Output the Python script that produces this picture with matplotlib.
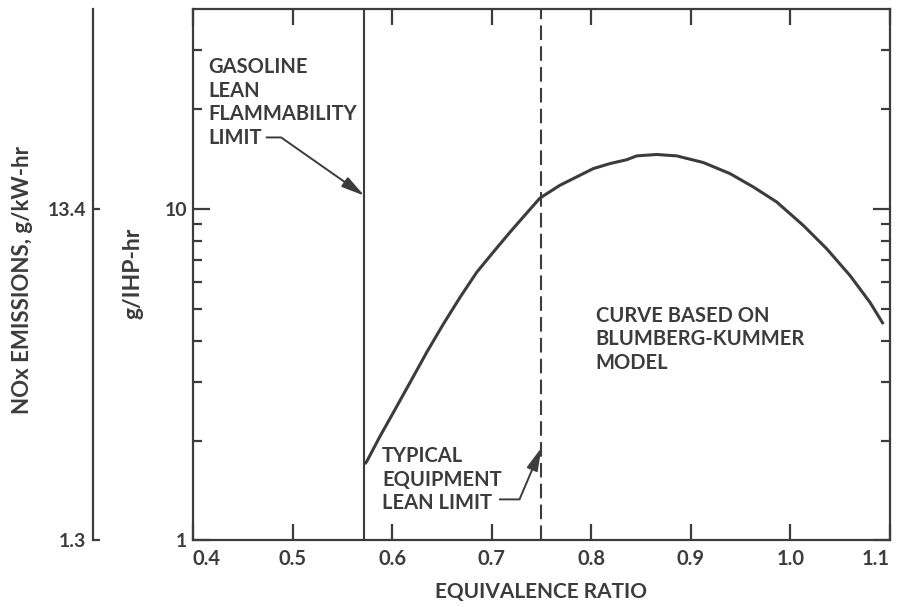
import matplotlib.pyplot as plt
from matplotlib.ticker import FixedLocator, FixedFormatter, NullLocator

# NOx emissions vs equivalence ratio (Blumberg-Kummer model curve)
phi = [0.5725, 0.5745, 0.5878, 0.6012, 0.6179, 0.6347, 0.6514, 0.6681, 0.6849,
       0.7016, 0.7184, 0.7351, 0.7485, 0.7686, 0.7853, 0.802, 0.8188, 0.8356,
       0.8456, 0.8657, 0.8858, 0.9125, 0.9393, 0.9627, 0.9862, 1.013, 1.0365,
       1.06, 1.0799, 1.0933]
nox = [1.70, 1.73, 2.06, 2.43, 2.99, 3.69, 4.49, 5.40, 6.43,
       7.40, 8.50, 9.70, 10.77, 11.77, 12.47, 13.21, 13.68, 14.05,
       14.43, 14.57, 14.43, 13.78, 12.76, 11.63, 10.48, 8.90, 7.57,
       6.28, 5.22, 4.49]

flammability_limit = 0.572
equipment_limit = 0.75

x_ticks = [0.4, 0.5, 0.6, 0.7, 0.8, 0.9, 1.0, 1.1]
x_labels = ["0.4", "0.5", "0.6", "0.7", "0.8", "0.9", "1.0", "1.1"]

kw_factor = 1.341   # g/IHP-hr -> g/kW-hr
kw_ticks = [1.341, 13.41]
kw_labels = ["1.3", "13.4"]

ink = "#3c3c3c"
plt.rcParams['font.family'] = ['Lato', 'DejaVu Sans']
plt.rcParams['font.weight'] = 'bold'
plt.rcParams['text.color'] = ink
plt.rcParams['axes.edgecolor'] = ink
plt.rcParams['xtick.color'] = ink
plt.rcParams['ytick.color'] = ink

fig = plt.figure(figsize=(8.98, 6.07), dpi=100)
ax = fig.add_axes([0.2149, 0.1096, 0.7762, 0.8756])

ax.plot(phi, nox, color=ink, lw=2.2, solid_capstyle='butt')
ax.axvline(flammability_limit, color=ink, lw=1.5)
ax.axvline(equipment_limit, color=ink, lw=1.5, linestyle=(0, (7, 3)))

ax.set_yscale('log')
ax.set_xlim(0.4, 1.1)
ax.set_ylim(1, 40)

for s in ax.spines.values():
    s.set_linewidth(1.6)

ax.xaxis.set_major_locator(FixedLocator(x_ticks))
ax.xaxis.set_major_formatter(FixedFormatter(x_labels))
ax.yaxis.set_major_locator(FixedLocator([1, 10]))
ax.yaxis.set_major_formatter(FixedFormatter(["1", "10"]))
ax.yaxis.set_minor_locator(FixedLocator([2, 3, 4, 5, 6, 7, 8, 9, 20, 30]))
ax.yaxis.set_minor_formatter(FixedFormatter([]))

ax.tick_params(axis='x', which='major', direction='in', top=True, length=11.5,
               width=1.6, labelsize=14.5, pad=6)
ax.tick_params(axis='y', which='major', direction='in', right=True, length=12,
               width=1.6, labelsize=14, pad=4)
ax.tick_params(axis='y', which='minor', direction='in', right=True, length=6.5,
               width=1.6)

xl = ax.get_xticklabels()
xl[0].set_horizontalalignment('left')
xl[-1].set_horizontalalignment('right')

# outer scale in g/kW-hr
sec = ax.secondary_yaxis(-0.1435, functions=(lambda v: v * kw_factor,
                                              lambda v: v / kw_factor))
sec.yaxis.set_major_locator(FixedLocator(kw_ticks))
sec.yaxis.set_major_formatter(FixedFormatter(kw_labels))
sec.yaxis.set_minor_locator(NullLocator())
sec.spines['left'].set_linewidth(1.6)
sec.tick_params(axis='y', direction='in', length=5, width=1.6, labelsize=14, pad=5)

fig.text(0.6025, 0.025, "EQUIVALENCE RATIO", ha='center', va='center', fontsize=15)
fig.text(0.0256, 0.539, "NOx EMISSIONS, g/kW-hr", rotation=90, ha='center',
         va='center', fontsize=16)
fig.text(0.148, 0.55, "g/IHP-hr", rotation=90, ha='center', va='center', fontsize=16.5)

ax.text(0.415, 20.9, "GASOLINE\nLEAN\nFLAMMABILITY\nLIMIT", ha='left', va='center',
        fontsize=14.5, linespacing=1.22)
ax.text(0.59, 1.524, "TYPICAL\nEQUIPMENT\nLEAN LIMIT", ha='left', va='center',
        fontsize=14.5, linespacing=1.22)
ax.text(0.8046, 4.04, "CURVE BASED ON\nBLUMBERG-KUMMER\nMODEL", ha='left',
        va='center', fontsize=14.5, linespacing=1.22)

arrow = dict(arrowstyle='-|>,head_length=1.0,head_width=0.25', color=ink, lw=1.4,
             shrinkA=0, shrinkB=0, mutation_scale=14)
ax.annotate("", xy=(flammability_limit, 10.95), xytext=(0.4738, 16.4),
            arrowprops=dict(arrow, connectionstyle="angle,angleA=0,angleB=-35,rad=0"))
ax.annotate("", xy=(equipment_limit, 1.905), xytext=(0.708, 1.33),
            arrowprops=dict(arrow, connectionstyle="angle,angleA=0,angleB=67,rad=0"))

fig.savefig("out.png", dpi=100)
